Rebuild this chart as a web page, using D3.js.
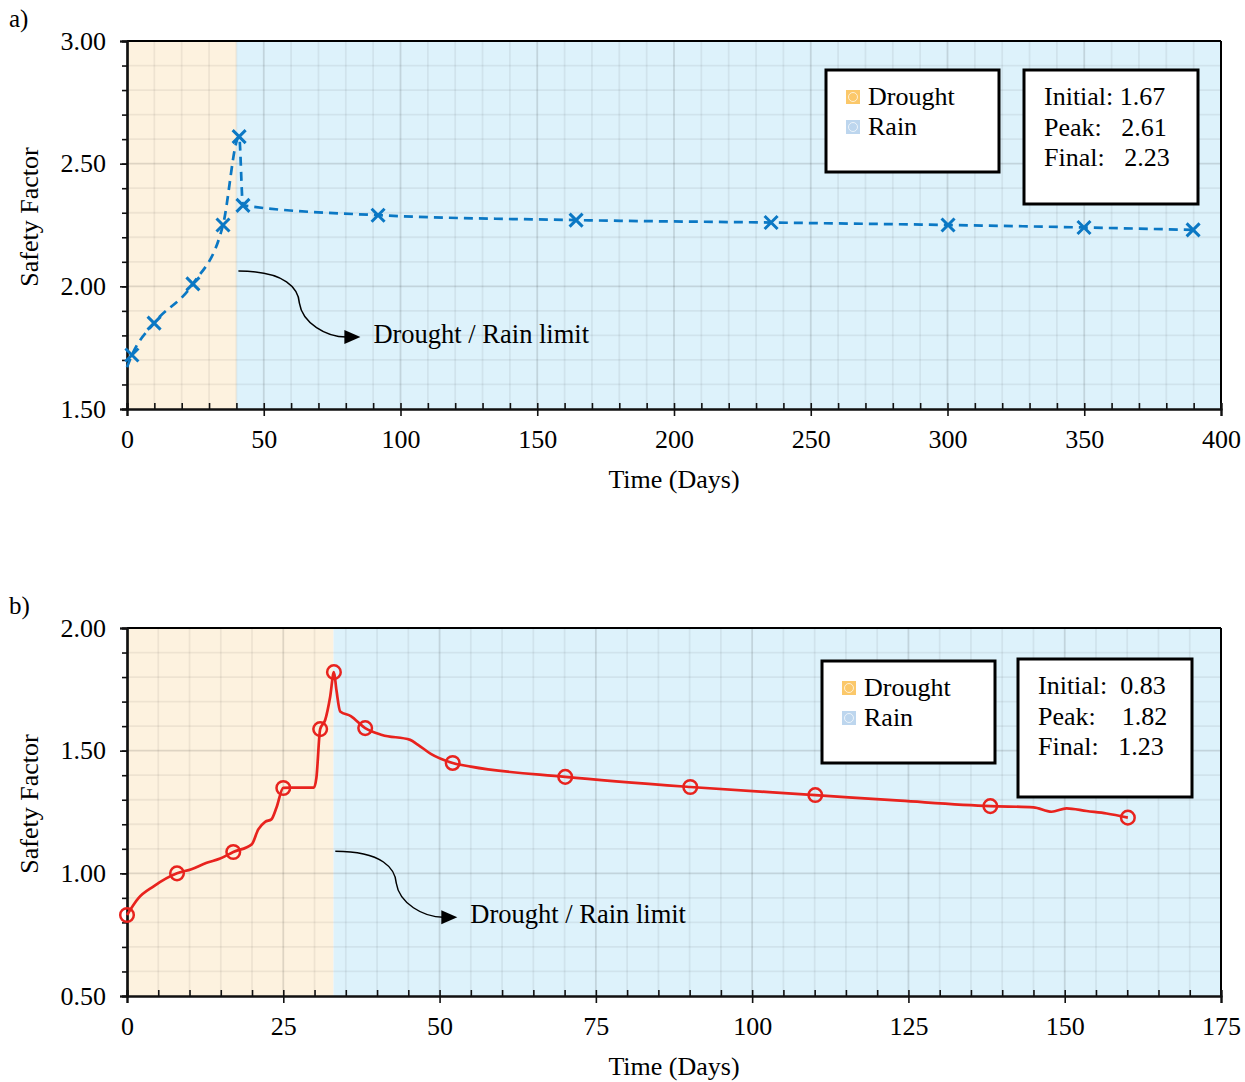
<!DOCTYPE html>
<html>
<head>
<meta charset="utf-8">
<script src="https://cdn.jsdelivr.net/npm/d3@7"></script>
<style>
  body { margin: 0; background: #fff; }
  svg { font-family: "Liberation Serif", "Times New Roman", serif; }
</style>
</head>
<body>
<svg width="1245" height="1082"></svg>
<script>
// ---- panel a) data ----
const aDays = [0, 1.8, 9.9, 24.1, 35.1, 41.0, 42.4, 91.8, 164.2, 235.5, 300.2, 349.9, 389.8]
const aSF = [1.67, 1.72, 1.85, 2.01, 2.25, 2.61, 2.33, 2.29, 2.27, 2.26, 2.25, 2.24, 2.23]
const aMarked = [0, 1, 1, 1, 1, 1, 1, 1, 1, 1, 1, 1, 1]
const aStats = ["Initial: 1.67", "Peak:   2.61", "Final:   2.23"]

// ---- panel b) data ----
const bDays = [0, 1.8, 4.2, 8.0, 10.3, 12.75, 14.9, 17.0, 19.95, 21.0, 22.1, 23.1, 23.9, 25.0,
  26.1, 29.9, 30.3, 30.9, 31.7, 32.5, 33.1, 33.5, 34.1, 35.8, 38.1, 40.8, 45.3, 46.5, 48.6,
  52.1, 55.0, 70.1, 90.1, 110.1, 123.7, 138.1, 145.0, 147.9, 150.3, 153.5, 156.7, 160.1]
const bSF = [0.83, 0.898, 0.946, 1.00, 1.017, 1.043, 1.060, 1.087, 1.118, 1.179, 1.210, 1.220, 1.267, 1.348,
  1.349, 1.349, 1.39, 1.588, 1.625, 1.72, 1.82, 1.747, 1.66, 1.641, 1.592, 1.564, 1.544, 1.525, 1.487,
  1.450, 1.435, 1.393, 1.352, 1.319, 1.296, 1.274, 1.269, 1.251, 1.265, 1.254, 1.244, 1.227]
const bMarked = [1, 0, 0, 1, 0, 0, 0, 1, 0, 0, 0, 0, 0, 1,
  0, 0, 0, 1, 0, 0, 1, 0, 0, 0, 1, 0, 0, 0, 0,
  1, 0, 1, 1, 1, 0, 1, 0, 0, 0, 0, 0, 1]
const bStats = ["Initial:  0.83", "Peak:    1.82", "Final:   1.23"]

const legendLabels = ["Drought", "Rain"]
const legendColors = ["#fbc86a", "#bdd6ee"]

const svg = d3.select('svg')

const LEFT = 127, RIGHT = 1221, PLOT_H = 368
const FONT = 26

function panel(o) {
  const g = svg.append('g')
  const x = d3.scaleLinear().domain([0, o.xMax]).range([LEFT, RIGHT])
  const y = d3.scaleLinear().domain([o.yMin, o.yMax]).range([o.top + PLOT_H, o.top])
  const bottom = o.top + PLOT_H

  // background regions
  g.append('rect')
    .attr('x', x(o.limit)).attr('y', o.top)
    .attr('width', x(o.xMax) - x(o.limit)).attr('height', PLOT_H)
    .attr('fill', '#ddf2fb')
  g.append('rect')
    .attr('x', x(0)).attr('y', o.top)
    .attr('width', x(o.limit) - x(0)).attr('height', PLOT_H)
    .attr('fill', '#fdf2df')

  // grid
  const xs = d3.range(o.xStep, o.xMax, o.xStep)
  g.selectAll('.vg').data(xs).join('line')
    .attr('x1', d => x(d)).attr('x2', d => x(d))
    .attr('y1', o.top).attr('y2', bottom)
    .attr('stroke', '#000')
    .attr('stroke-opacity', d => Math.abs(d / o.xMajor - Math.round(d / o.xMajor)) < 1e-6 ? 0.12 : 0.06)
    .attr('stroke-width', 1.8)
  const ys = d3.range(o.yMin + 0.1, o.yMax - 0.05, 0.1)
  g.selectAll('.hg').data(ys).join('line')
    .attr('x1', LEFT).attr('x2', RIGHT)
    .attr('y1', d => y(d)).attr('y2', d => y(d))
    .attr('stroke', '#000')
    .attr('stroke-opacity', d => Math.abs(d / 0.5 - Math.round(d / 0.5)) < 1e-6 ? 0.12 : 0.06)
    .attr('stroke-width', 1.8)

  // frame
  g.append('line').attr('x1', LEFT).attr('x2', RIGHT).attr('y1', o.top).attr('y2', o.top)
    .attr('stroke', '#000').attr('stroke-width', 2)
  g.append('line').attr('x1', RIGHT).attr('x2', RIGHT).attr('y1', o.top).attr('y2', bottom)
    .attr('stroke', '#000').attr('stroke-width', 2)

  // axes
  const yMajors = d3.range(o.yMin, o.yMax + 0.01, 0.5)
  const yMinors = d3.range(o.yMin, o.yMax + 0.01, 0.1)
  const xMajors = d3.range(0, o.xMax + 0.01, o.xMajor)
  const xMinors = d3.range(0, o.xMax + 0.01, o.xStep)

  const yMinorAx = g.append('g').attr('transform', `translate(${LEFT},0)`)
    .call(d3.axisLeft(y).tickValues(yMinors).tickSize(5).tickFormat(''))
  const xMinorAx = g.append('g').attr('transform', `translate(0,${bottom})`)
    .call(d3.axisTop(x).tickValues(xMinors).tickSize(6).tickFormat(''))
  const yAx = g.append('g').attr('transform', `translate(${LEFT},0)`)
    .call(d3.axisLeft(y).tickValues(yMajors).tickSize(7).tickPadding(14).tickFormat(d3.format('.2f')))
  const xAx = g.append('g').attr('transform', `translate(0,${bottom})`)
    .call(d3.axisBottom(x).tickValues(xMajors).tickSize(7).tickPadding(14).tickFormat(d3.format('d')))
  for (const ax of [yMinorAx, xMinorAx, yAx, xAx]) {
    ax.select('.domain').attr('stroke', '#111').attr('stroke-width', 2.2)
    ax.selectAll('.tick line').attr('stroke', '#111').attr('stroke-width', 1.6)
    ax.selectAll('text').attr('font-family', '"Liberation Serif", serif')
      .attr('font-size', FONT).attr('fill', '#000')
  }

  // axis titles
  g.append('text').attr('x', (LEFT + RIGHT) / 2).attr('y', bottom + 79)
    .attr('text-anchor', 'middle').attr('font-size', FONT).text('Time (Days)')
  g.append('text')
    .attr('transform', `translate(38,${o.top + PLOT_H / 2 - 8}) rotate(-90)`)
    .attr('text-anchor', 'middle').attr('font-size', FONT).text('Safety Factor')
  g.append('text').attr('x', 9).attr('y', o.top - 14)
    .attr('font-size', FONT - 1).text(o.tag)

  // series line
  const pts = o.days.map((d, i) => [d, o.sf[i], o.marked[i]])
  g.append('path').datum(pts)
    .attr('d', d3.line().x(d => x(d[0])).y(d => y(d[1])).curve(d3.curveMonotoneX))
    .attr('fill', 'none').attr('stroke', o.color).attr('stroke-width', 2.7)
    .attr('stroke-dasharray', o.dash)
  const mk = pts.filter(d => d[2])
  if (o.marker === 'x') {
    g.selectAll('.mx').data(mk).join('path')
      .attr('d', d => { const cx = x(d[0]), cy = y(d[1]), r = 6.5; return `M${cx - r},${cy - r}L${cx + r},${cy + r}M${cx - r},${cy + r}L${cx + r},${cy - r}` })
      .attr('stroke', o.color).attr('stroke-width', 3).attr('fill', 'none')
  } else {
    g.selectAll('.mc').data(mk).join('circle')
      .attr('cx', d => x(d[0])).attr('cy', d => y(d[1])).attr('r', 6.8)
      .attr('fill', 'none').attr('stroke', o.color).attr('stroke-width', 2.5)
  }

  // limit annotation arrow
  const sx = x(o.limit), sy = y(o.annY)
  const tx = sx + 124, ty = sy + 66
  g.append('path')
    .attr('d', `M${sx + 2},${sy} C${sx + 50},${sy} ${sx + 62},${sy + 18} ${sx + 63},${sy + 32} C${sx + 66},${sy + 52} ${sx + 90},${ty} ${tx - 14},${ty}`)
    .attr('fill', 'none').attr('stroke', '#000').attr('stroke-width', 1.5)
  g.append('path')
    .attr('d', `M${tx},${ty}L${tx - 16},${ty - 7}L${tx - 16},${ty + 7}Z`).attr('fill', '#000')
  g.append('text').attr('x', tx + 13).attr('y', ty + 6)
    .attr('font-size', FONT + 0.5).text('Drought / Rain limit')

  // legend box
  const lg = g.append('g').attr('transform', `translate(${o.legX},${o.top + o.legDy})`)
  lg.append('rect').attr('width', 173).attr('height', 102)
    .attr('fill', '#fff').attr('stroke', '#000').attr('stroke-width', 3)
  legendLabels.forEach((lab, i) => {
    const yy = 27 + i * 30
    lg.append('rect').attr('x', 20).attr('y', yy - 7).attr('width', 14).attr('height', 14)
      .attr('fill', legendColors[i])
    lg.append('circle').attr('cx', 27).attr('cy', yy).attr('r', 4.5)
      .attr('fill', 'none').attr('stroke', '#fff').attr('stroke-opacity', 0.7).attr('stroke-width', 1)
    lg.append('text').attr('x', 42).attr('y', yy + 8).attr('font-size', FONT).text(lab)
  })

  // stats box
  const sg = g.append('g').attr('transform', `translate(${o.legX + o.statDx},${o.top + o.statDy})`)
  sg.append('rect').attr('width', 174).attr('height', o.statH)
    .attr('fill', '#fff').attr('stroke', '#000').attr('stroke-width', 3)
  o.stats.forEach((s, i) => {
    sg.append('text').attr('x', 20).attr('y', 35 + i * 30.5)
      .attr('font-size', FONT).attr('xml:space', 'preserve').style('white-space', 'pre').text(s)
  })
}

panel({
  tag: 'a)', top: 41, xMax: 400, xStep: 10, xMajor: 50, yMin: 1.5, yMax: 3.0,
  limit: 40, annY: 2.062, days: aDays, sf: aSF, marked: aMarked,
  color: '#0b78c4', dash: '9,6', marker: 'x', stats: aStats,
  legX: 826, legDy: 29, statDx: 198, statDy: 29, statH: 134
})

panel({
  tag: 'b)', top: 628, xMax: 175, xStep: 5, xMajor: 25, yMin: 0.5, yMax: 2.0,
  limit: 33, annY: 1.09, days: bDays, sf: bSF, marked: bMarked,
  color: '#e8231e', dash: null, marker: 'o', stats: bStats,
  legX: 822, legDy: 33, statDx: 196, statDy: 31, statH: 138
})
</script>
</body>
</html>
